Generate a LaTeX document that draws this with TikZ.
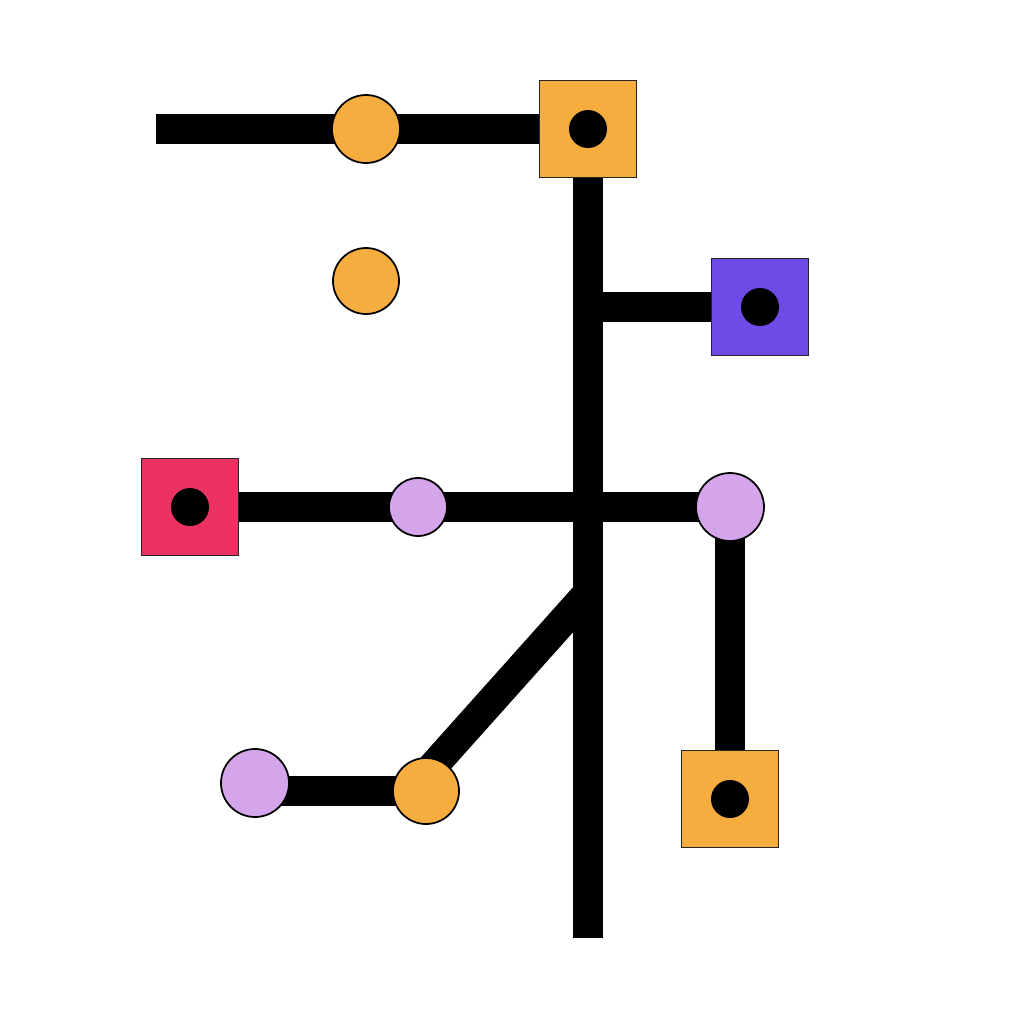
\documentclass[tikz,border=0pt]{standalone}
\usepackage{tikz}
\usetikzlibrary{positioning,backgrounds}
\definecolor{StopOrange}{HTML}{F6AD3F}
\definecolor{StopPurple}{HTML}{6E4BE6}
\definecolor{StopRed}{HTML}{EC3263}
\definecolor{StopLilac}{HTML}{D4A5EB}

\begin{document}
\begin{tikzpicture}[on grid]
  \useasboundingbox (0,0) rectangle (10.24,-10.24);
  \tikzset{StationStyle/.style = {shape        = circle,
                                  draw         = black,
                                  line width   = 0.5pt,
                                  inner sep    = 0pt,
                                  minimum size = 0.68cm}}
  \tikzset{TerminalStyle/.style = {shape        = rectangle,
                                   draw         = black!85,
                                   line width   = 0.4pt,
                                   inner sep    = 0pt,
                                   minimum size = 0.97cm,
                                   path picture = {\fill[black]
                                     (path picture bounding box.center) circle (0.19);}}}
  \tikzset{EdgeStyle/.style   = {line width = 0.3cm,
                                 black}}
     \node[TerminalStyle,fill=StopOrange] at (5.88,-1.29) (A) {};
     \node[StationStyle,fill=StopOrange,left=2.22 of A] (B) {};
     \node[StationStyle,fill=StopOrange,minimum size=0.66cm,below=1.52 of B] (C) {};
     \node[TerminalStyle,fill=StopPurple,below right=1.78 and 1.72 of A] (D) {};
     \node[StationStyle,fill=StopLilac,below right=3.78 and 1.42 of A] (G) {};
     \node[TerminalStyle,fill=StopOrange,below=2.92 of G] (H) {};
     \node[StationStyle,fill=StopLilac,minimum size=0.58cm,left=3.12 of G] (F) {};
     \node[TerminalStyle,fill=StopRed,left=2.28 of F] (E) {};
     \node[StationStyle,fill=StopOrange,minimum size=0.66cm,below left=2.84 and 3.04 of G] (I) {};
     \node[StationStyle,fill=StopLilac,above left=0.08 and 1.71 of I] (K) {};
     \coordinate[left=4.32 of A] (S);
     \coordinate[below=8.09 of A] (T);
     \coordinate[below=1.78 of A] (P);
     \coordinate[below=4.64 of A] (Q);
     \begin{scope}[on background layer]
       \draw[EdgeStyle] (S) -- (B.center) -- (A.center);
       \draw[EdgeStyle] (A.center) -- (T);
       \draw[EdgeStyle] (P) -- (D.center);
       \draw[EdgeStyle] (E.center) -- (F.center) -- (G.center);
       \draw[EdgeStyle] (G.center) -- (H.center);
       \draw[EdgeStyle] (Q) -- ([xshift=-0.15cm]I.center);
       \draw[EdgeStyle] (K.center |- I.center) -- (I.center);
     \end{scope}
  \end{tikzpicture}
\end{document}
